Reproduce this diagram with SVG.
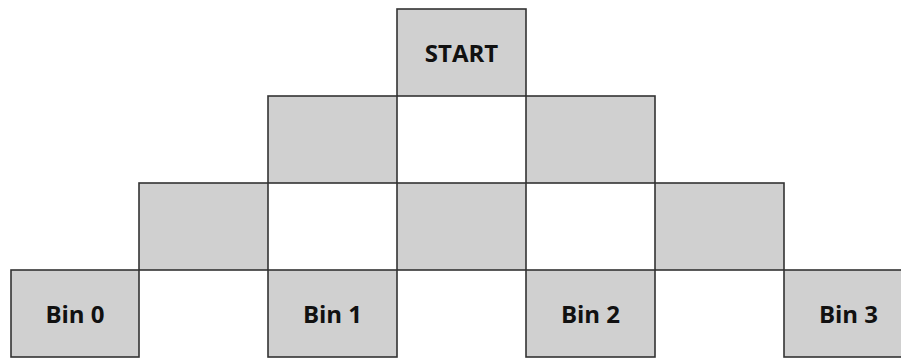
<svg xmlns="http://www.w3.org/2000/svg" width="901" height="358" viewBox="0 0 901 358">
<style>
.g{fill:#d0d0d0;stroke:#333;stroke-width:1.6}
.t{font-family:"Open Sans","Liberation Sans",sans-serif;font-weight:700;font-size:24px;fill:#111;text-anchor:middle}
</style>
<rect width="901" height="358" fill="#fff"/>
<g id="start"><rect class="g" x="397" y="9" width="129" height="87"/><text class="t" x="461.5" y="61.5">START</text></g>
<g id="r1c2"><rect class="g" x="268" y="96" width="129" height="87"/></g>
<g id="r1c4"><rect class="g" x="526" y="96" width="129" height="87"/></g>
<g id="r2c1"><rect class="g" x="139" y="183" width="129" height="87"/></g>
<g id="r2c3"><rect class="g" x="397" y="183" width="129" height="87"/></g>
<g id="r2c5"><rect class="g" x="655" y="183" width="129" height="87"/></g>
<g id="bin0"><rect class="g" x="11" y="270" width="128" height="87"/><text class="t" x="75" y="323">Bin 0</text></g>
<g id="bin1"><rect class="g" x="268" y="270" width="129" height="87"/><text class="t" x="332.5" y="323">Bin 1</text></g>
<g id="bin2"><rect class="g" x="526" y="270" width="129" height="87"/><text class="t" x="590.5" y="323">Bin 2</text></g>
<g id="bin3"><rect class="g" x="784" y="270" width="129" height="87"/><text class="t" x="848.5" y="323">Bin 3</text></g>
<g id="connectors"></g>
</svg>
